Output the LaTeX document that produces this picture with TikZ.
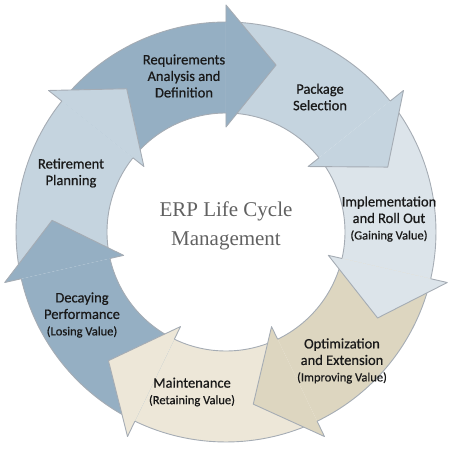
\documentclass[tikz,border=0pt]{standalone}
\usepackage{fontspec}
\setsansfont{Carlito}
\newfontfamily\phasefont[FakeBold=0.6]{Carlito}
\newfontfamily\titlefont{Liberation Serif}
\usepackage{tikz}

\definecolor{reqblue}{RGB}{149,175,195}
\definecolor{pkgblue}{RGB}{197,212,223}
\definecolor{implblue}{RGB}{220,228,234}
\definecolor{opttan}{RGB}{221,214,192}
\definecolor{maintcream}{RGB}{237,231,216}
\definecolor{rimgray}{RGB}{165,172,180}
\newcommand{\valuetextfont}{\fontsize{12.5}{15}\selectfont}

\begin{document}
\begin{tikzpicture}[x=1pt, y=1pt, font=\sffamily,
    phaserim/.style={draw=rimgray, line width=0.9pt, line join=round},
    phasetext/.style={align=center, text=black!90,
      font=\phasefont\fontsize{14.5}{16.5}\selectfont},
    titletext/.style={align=center, text=black!62,
      font=\titlefont\fontsize{21}{29}\selectfont}]
      \useasboundingbox (-226, -218) rectangle (225, 232);

      % ring bodies, each from the previous head base to its own
      \foreach \b/\c in {90/reqblue, 38.57/pkgblue, -12.86/implblue,
          -64.29/opttan, -115.71/maintcream, -167.14/reqblue,
          -218.57/pkgblue} {
        \fill[\c] ({\b+51.43}:210) arc[start angle=\b+51.43, end angle=\b, radius=210]
          -- (\b:119) arc[start angle=\b, end angle=\b+51.43, radius=119] -- cycle;
        \draw[phaserim] ({\b+51.43}:210) arc[start angle=\b+51.43, end angle=\b, radius=210];
        \draw[phaserim] ({\b+51.43}:119) arc[start angle=\b+51.43, end angle=\b, radius=119];
      }

      % heads on top
      \foreach \b/\c in {90/reqblue, 38.57/pkgblue, -12.86/implblue,
          -64.29/opttan, -115.71/maintcream, -167.14/reqblue,
          -218.57/pkgblue} {
        \filldraw[phaserim, fill=\c] (\b:210) -- (\b:227) -- ({\b-16.7}:174.3)
          -- (\b:105) -- (\b:119);
      }

      \node[phasetext] (req) at (-42, 156) {Requirements\\Analysis and\\Definition};
      \node[phasetext] (pkg) at (94, 135) {Package\\Selection};
      \node[phasetext] (impl) at (163, 13) {Implementation\\and Roll Out\\{\valuetextfont (Gaining Value)}};
      \node[phasetext] (opt) at (116, -129) {Optimization\\and Extension\\{\valuetextfont (Improving Value)}};
      \node[phasetext] (maint) at (-34, -160) {Maintenance\\{\valuetextfont (Retaining Value)}};
      \node[phasetext] (decay) at (-144, -83) {Decaying\\Performance\\{\valuetextfont (Losing Value)}};
      \node[phasetext] (retire) at (-155, 59) {Retirement\\Planning};

      \node[titletext] (title) at (0, 6) {ERP Life Cycle\\Management};

   \end{tikzpicture}
\end{document}
